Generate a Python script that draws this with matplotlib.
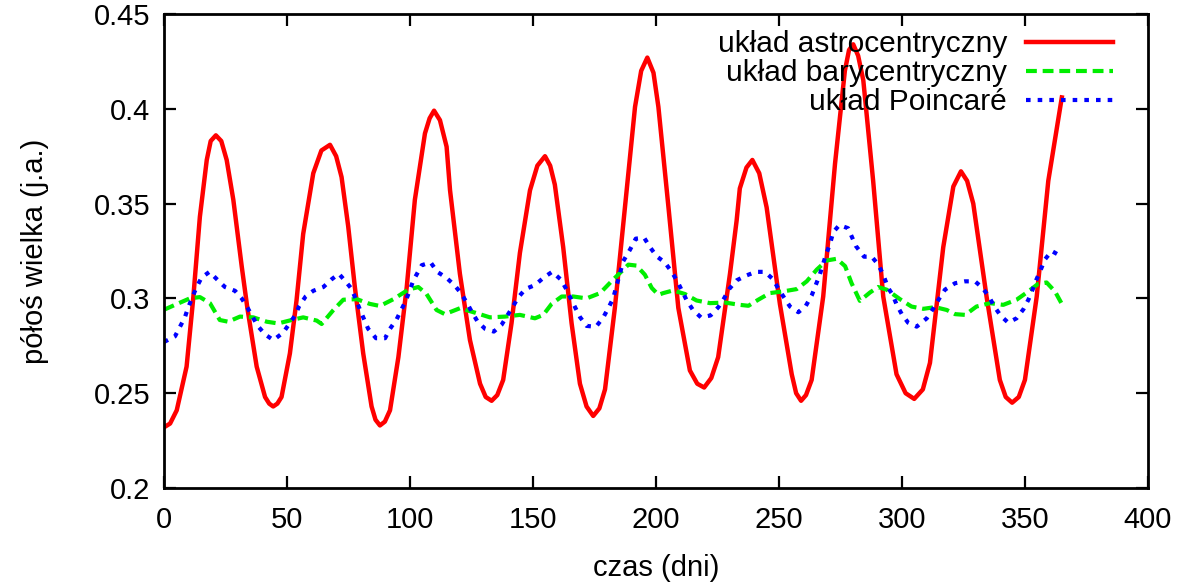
import matplotlib
matplotlib.use("Agg")
import matplotlib.pyplot as plt
from matplotlib.ticker import FuncFormatter

plt.rcParams['font.family'] = ['Liberation Sans', 'DejaVu Sans']

# uklad astrocentryczny
red_x = [0, 2.5, 5.2, 9.2, 11.9, 14.6, 17.4, 19.0, 21.1, 23.3, 25.5, 28.2, 31.6, 33.9, 37.7,
         41.1, 42.8, 44.4, 46.1, 47.8, 51.2, 53.9, 56.6, 60.7, 64.0, 67.5, 70.0, 72.2, 74.9, 77.6, 81.0,
         84.4, 86.0, 87.8, 89.8, 91.9, 95.3, 98.7, 102.0, 106.1, 108.0, 109.8, 112.2, 114.9, 116.3, 120.3,
         124.4, 128.5, 130.8, 133.2, 135.5, 137.9, 141.3, 144.7, 148.8, 151.8, 154.9, 157.0,
         158.9, 162.3, 165.7, 169.1, 171.8, 174.5, 177.0, 179.3, 183.3, 187.4, 191.5, 194.0,
         196.5, 199.0, 201.0, 205.1, 209.1, 213.8, 216.8, 219.6, 222.5, 225.3, 230.1, 232.8,
         234.1, 236.8, 239.2, 242.0, 245.0, 250.4, 255.2, 257.0, 259.0, 261.0, 263.3, 268.0,
         272.8, 276.8, 278.5, 280.2, 282.2, 284.3, 288.3, 292.4, 297.8, 301.5, 305.0, 308.5,
         311.4, 316.8, 320.9, 324.0, 326.5, 329.0, 334.4, 339.8, 342.2, 344.8, 347.5, 350.0,
         354.8, 359.5, 365.0]
red_y = [0.232, 0.234, 0.241, 0.264, 0.300, 0.343, 0.373, 0.383, 0.386, 0.383, 0.373, 0.352, 0.317, 0.295, 0.264,
         0.248, 0.2445, 0.243, 0.2445, 0.248, 0.271, 0.299, 0.334, 0.366, 0.378, 0.381, 0.375, 0.364, 0.338, 0.306, 0.271,
         0.243, 0.236, 0.233, 0.235, 0.241, 0.269, 0.306, 0.352, 0.387, 0.395, 0.399, 0.394, 0.380, 0.357, 0.313,
         0.278, 0.255, 0.248, 0.246, 0.249, 0.257, 0.287, 0.324, 0.357, 0.370, 0.375, 0.370,
         0.360, 0.327, 0.287, 0.255, 0.243, 0.238, 0.242, 0.252, 0.295, 0.348, 0.401, 0.420,
         0.427, 0.419, 0.401, 0.348, 0.295, 0.262, 0.255, 0.253, 0.258, 0.269, 0.313, 0.341,
         0.358, 0.369, 0.373, 0.366, 0.348, 0.297, 0.260, 0.250, 0.246, 0.249, 0.257, 0.301,
         0.371, 0.420, 0.431, 0.434, 0.428, 0.415, 0.362, 0.301, 0.260, 0.250, 0.247, 0.252,
         0.266, 0.327, 0.359, 0.367, 0.362, 0.350, 0.301, 0.257, 0.248, 0.245, 0.248, 0.257,
         0.301, 0.362, 0.406]

# uklad barycentryczny
green_x = [0, 5.2, 10.5, 14.6, 18.7, 22.7, 26.1, 30.9, 36.3, 41.8, 46.4, 51.9, 56.6, 62.1, 64.1,
           68.9, 72.9, 78.4, 83.7, 87.8, 93.3, 99.3, 103.4, 106.7, 110.8, 114.2, 120.3, 126.4,
           132.5, 138.6, 144.7, 150.8, 154.2, 157.6, 161.7, 166.4, 171.8, 177.3, 182.6, 188.8,
           192.1, 195.5, 198.3, 201.0, 203.0, 207.0, 211.8, 216.5, 222.0, 228.1, 234.1, 237.6,
           241.6, 246.3, 251.8, 257.2, 261.3, 265.4, 269.4, 273.5, 276.9, 279.5, 282.9, 287.0,
           290.3, 293.8, 299.2, 303.9, 308.7, 313.5, 318.2, 321.6, 325.7, 330.3, 335.8, 341.2,
           346.6, 351.4, 355.4, 358.8, 362.2, 365.0]
green_y = [0.294, 0.297, 0.300, 0.3007, 0.2975, 0.2886, 0.2877, 0.2904, 0.290, 0.2877, 0.2868, 0.2886, 0.290, 0.2883, 0.2865,
           0.2939, 0.2993, 0.2996, 0.2971, 0.296, 0.2996, 0.3046, 0.306, 0.3024, 0.2939, 0.2917, 0.2948, 0.2925,
           0.290, 0.2904, 0.2913, 0.2895, 0.2913, 0.2971, 0.301, 0.301, 0.300, 0.3028, 0.3099, 0.3178,
           0.3173, 0.3125, 0.3055, 0.3019, 0.3028, 0.3042, 0.3023, 0.2989, 0.2975, 0.2978, 0.2966, 0.2961,
           0.2993, 0.3028, 0.3037, 0.3049, 0.309, 0.3152, 0.320, 0.3209, 0.317, 0.3081, 0.2987, 0.3031,
           0.306, 0.3046, 0.2996, 0.2957, 0.2945, 0.2954, 0.2939, 0.2917, 0.2913, 0.2957, 0.2975, 0.2966,
           0.2993, 0.3037, 0.3077, 0.3084, 0.3037, 0.2971]

# uklad Poincare
blue_x = [0, 4.5, 6.5, 8.5, 9.8, 11.5, 13.3, 15.3, 18.5, 21.6, 24.8, 28.9, 31.6, 34.0, 38.1,
          41.1, 44.5, 48.5, 53.3, 55.0, 57.6, 60.7, 64.8, 68.1, 71.1, 73.8, 76.3, 79.7, 83.0,
          86.2, 89.9, 91.9, 94.6, 98.4, 101.4, 104.8, 108.4, 111.1, 114.7, 118.1, 120.6, 123.0,
          125.1, 127.4, 130.5, 134.1, 137.2, 139.6, 142.0, 144.0, 147.0, 150.8, 154.4, 157.8,
          161.3, 163.3, 165.1, 167.1, 169.2, 171.8, 175.6, 178.6, 180.7, 182.6, 184.7, 186.7,
          189.5, 191.8, 195.2, 197.6, 200.3, 203.6, 206.4, 208.7, 212.5, 215.0, 218.3, 222.2,
          225.4, 227.7, 229.8, 232.8, 236.6, 240.6, 244.3, 247.7, 249.8, 252.1, 254.5, 257.9,
          260.9, 263.3, 266.6, 269.1, 270.7, 272.1, 274.6, 278.1, 281.3, 284.6, 287.7, 290.3,
          292.4, 294.4, 296.2, 297.9, 299.9, 302.5, 306.0, 310.1, 312.8, 315.2, 317.5, 321.6,
          325.6, 329.7, 332.8, 335.5, 337.4, 340.2, 343.2, 346.6, 349.4, 351.4, 353.1, 354.7,
          356.4, 358.1, 360.9, 365.0]
blue_y = [0.277, 0.280, 0.285, 0.290, 0.295, 0.3005, 0.306, 0.311, 0.314, 0.310, 0.306, 0.304, 0.300, 0.295, 0.2855,
          0.281, 0.278, 0.282, 0.291, 0.296, 0.301, 0.304, 0.306, 0.310, 0.313, 0.309, 0.305, 0.294, 0.284,
          0.279, 0.279, 0.284, 0.289, 0.299, 0.3095, 0.3175, 0.319, 0.314, 0.311, 0.307, 0.303, 0.298,
          0.293, 0.288, 0.284, 0.2825, 0.286, 0.291, 0.296, 0.3005, 0.305, 0.307, 0.311, 0.314,
          0.310, 0.3055, 0.3007, 0.2954, 0.290, 0.2855, 0.285, 0.290, 0.295, 0.300, 0.310, 0.3196,
          0.3258, 0.3315, 0.332, 0.327, 0.3222, 0.319, 0.314, 0.309, 0.299, 0.294, 0.290, 0.291,
          0.2954, 0.300, 0.305, 0.3095, 0.312, 0.314, 0.314, 0.310, 0.305, 0.3005, 0.2957, 0.2927,
          0.296, 0.3015, 0.3125, 0.323, 0.3285, 0.335, 0.3387, 0.337, 0.3276, 0.322, 0.322, 0.318,
          0.3125, 0.3055, 0.302, 0.2966, 0.2918, 0.2872, 0.2851, 0.2895, 0.2948, 0.300, 0.3046, 0.308,
          0.309, 0.309, 0.3055, 0.3007, 0.296, 0.2908, 0.2872, 0.2895, 0.2943, 0.2993, 0.3046, 0.310,
          0.315, 0.3205, 0.325, 0.322]

x_ticks = [0, 50, 100, 150, 200, 250, 300, 350, 400]
y_ticks = [0.2, 0.25, 0.3, 0.35, 0.4, 0.45]

fig = plt.figure(figsize=(11.95, 5.85), dpi=100)
ax = fig.add_axes([0.1372, 0.1658, 0.8234, 0.8103])

ax.plot(red_x, red_y, color='#ff0000', lw=3.2, solid_joinstyle='round', label='układ astrocentryczny')
ax.plot(green_x, green_y, color='#00ee00', lw=3.0, dashes=(2.6, 1.4), dash_joinstyle='round',
        label='układ barycentryczny')
ax.plot(blue_x, blue_y, color='#0000ff', lw=3.0, dashes=(1.1, 1.7), label='układ Poincaré')

ax.set_xlim(0, 400)
ax.set_ylim(0.2, 0.45)
ax.set_xticks(x_ticks)
ax.set_yticks(y_ticks)
ax.yaxis.set_major_formatter(FuncFormatter(lambda v, p: '%g' % v))
ax.tick_params(direction='in', top=True, right=True, length=8.5, width=1.6,
               labelsize=21, pad=10)
ax.tick_params(axis='x', pad=13)
for s in ax.spines.values():
    s.set_linewidth(2.0)

ax.set_xlabel('czas (dni)', fontsize=21, labelpad=14)
ax.set_ylabel('półoś wielka (j.a.)', fontsize=21, labelpad=32)

ax.legend(loc='upper right', bbox_to_anchor=(0.9644, 0.966), borderaxespad=0, borderpad=0,
          frameon=False, markerfirst=False, fontsize=21.5, handlelength=2.9,
          handletextpad=0.65, labelspacing=0.04)

plt.savefig('out.png', dpi=100)
